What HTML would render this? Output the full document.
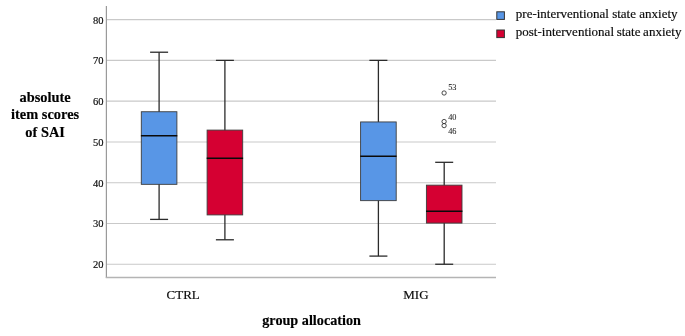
<!DOCTYPE html>
<html lang="en"><head><meta charset="utf-8"><title>SAI box plot</title>
<style>
html,body{margin:0;padding:0;background:#fff;}
body{width:685px;height:336px;position:relative;overflow:hidden;font-family:"Liberation Serif",serif;}
svg text{font-family:"Liberation Serif",serif;fill:#0c0c0c;stroke:#0c0c0c;stroke-width:0.18px;}
svg text.t{stroke-width:0.05px;fill:#1a1a1a;}
svg text.b{font-weight:bold;fill:#000;stroke:#000;stroke-width:0.15px;}
</style></head><body>
<svg width="685" height="336" viewBox="0 0 685 336" style="position:absolute;left:0;top:0;will-change:transform">
<rect width="685" height="336" fill="#fff"/>
<line x1="106.4" x2="496" y1="264.25" y2="264.25" stroke="#c9c9c9" stroke-width="1.1"/>
<line x1="106.4" x2="496" y1="223.47" y2="223.47" stroke="#c9c9c9" stroke-width="1.1"/>
<line x1="106.4" x2="496" y1="182.7" y2="182.7" stroke="#c9c9c9" stroke-width="1.1"/>
<line x1="106.4" x2="496" y1="141.93" y2="141.93" stroke="#c9c9c9" stroke-width="1.1"/>
<line x1="106.4" x2="496" y1="101.15" y2="101.15" stroke="#c9c9c9" stroke-width="1.1"/>
<line x1="106.4" x2="496" y1="60.38" y2="60.38" stroke="#c9c9c9" stroke-width="1.1"/>
<line x1="106.4" x2="496" y1="19.6" y2="19.6" stroke="#c9c9c9" stroke-width="1.1"/>
<line x1="106.4" x2="106.4" y1="6" y2="278.1" stroke="#9a9a9a" stroke-width="1.2"/>
<line x1="105.80000000000001" x2="496" y1="277.5" y2="277.5" stroke="#b4b4b4" stroke-width="1.3"/>
<text x="103.4" y="268.15" text-anchor="end" font-size="10.5" class="s">20</text>
<text x="103.4" y="227.37" text-anchor="end" font-size="10.5" class="s">30</text>
<text x="103.4" y="186.6" text-anchor="end" font-size="10.5" class="s">40</text>
<text x="103.4" y="145.83" text-anchor="end" font-size="10.5" class="s">50</text>
<text x="103.4" y="105.05" text-anchor="end" font-size="10.5" class="s">60</text>
<text x="103.4" y="64.28" text-anchor="end" font-size="10.5" class="s">70</text>
<text x="103.4" y="23.5" text-anchor="end" font-size="10.5" class="s">80</text>
<line x1="159.1" x2="159.1" y1="52.22" y2="219.4" stroke="#2b2b2b" stroke-width="1.3"/>
<line x1="150.1" x2="168.1" y1="52.22" y2="52.22" stroke="#2b2b2b" stroke-width="1.3"/>
<line x1="150.1" x2="168.1" y1="219.4" y2="219.4" stroke="#2b2b2b" stroke-width="1.3"/>
<rect x="141.3" y="111.74" width="35.6" height="72.6" fill="#5896e6" stroke="#3d3d3d" stroke-width="0.9"/>
<line x1="140.9" x2="177.3" y1="135.81" y2="135.81" stroke="#0a0a0a" stroke-width="1.6"/>
<line x1="224.9" x2="224.9" y1="60.38" y2="239.78" stroke="#2b2b2b" stroke-width="1.3"/>
<line x1="215.9" x2="233.9" y1="60.38" y2="60.38" stroke="#2b2b2b" stroke-width="1.3"/>
<line x1="215.9" x2="233.9" y1="239.78" y2="239.78" stroke="#2b2b2b" stroke-width="1.3"/>
<rect x="207.1" y="130.09" width="35.6" height="84.83" fill="#d50032" stroke="#3d3d3d" stroke-width="0.9"/>
<line x1="206.7" x2="243.1" y1="158.24" y2="158.24" stroke="#0a0a0a" stroke-width="1.6"/>
<line x1="378.4" x2="378.4" y1="60.38" y2="256.1" stroke="#2b2b2b" stroke-width="1.3"/>
<line x1="369.4" x2="387.4" y1="60.38" y2="60.38" stroke="#2b2b2b" stroke-width="1.3"/>
<line x1="369.4" x2="387.4" y1="256.1" y2="256.1" stroke="#2b2b2b" stroke-width="1.3"/>
<rect x="360.6" y="121.94" width="35.6" height="78.71" fill="#5896e6" stroke="#3d3d3d" stroke-width="0.9"/>
<line x1="360.2" x2="396.6" y1="156.2" y2="156.2" stroke="#0a0a0a" stroke-width="1.6"/>
<line x1="444.2" x2="444.2" y1="162.31" y2="264.25" stroke="#2b2b2b" stroke-width="1.3"/>
<line x1="435.2" x2="453.2" y1="162.31" y2="162.31" stroke="#2b2b2b" stroke-width="1.3"/>
<line x1="435.2" x2="453.2" y1="264.25" y2="264.25" stroke="#2b2b2b" stroke-width="1.3"/>
<rect x="426.4" y="185.14" width="35.6" height="37.93" fill="#d50032" stroke="#3d3d3d" stroke-width="0.9"/>
<line x1="426.0" x2="462.4" y1="211.24" y2="211.24" stroke="#0a0a0a" stroke-width="1.6"/>
<circle cx="444.1" cy="93.0" r="2.15" fill="none" stroke="#2b2b2b" stroke-width="0.85"/>
<circle cx="444.1" cy="121.54" r="2.15" fill="none" stroke="#2b2b2b" stroke-width="0.85"/>
<circle cx="444.1" cy="125.62" r="2.15" fill="none" stroke="#2b2b2b" stroke-width="0.85"/>
<text x="448.2" y="90.1" font-size="8.3" class="t">53</text>
<text x="448.2" y="120.2" font-size="8.3" class="t">40</text>
<text x="448.2" y="134.1" font-size="8.3" class="t">46</text>
<rect x="496.8" y="11.8" width="7.6" height="7.6" fill="#5896e6" stroke="#333" stroke-width="1"/>
<rect x="496.8" y="30.0" width="7.6" height="7.6" fill="#d50032" stroke="#333" stroke-width="1"/>
<text x="515.8" y="18.2" font-size="13" class="s">pre-interventional state anxiety</text>
<text x="515.8" y="36.4" font-size="13" word-spacing="-0.6" class="s">post-interventional state anxiety</text>
<text x="183.2" y="299.4" text-anchor="middle" font-size="13" class="s">CTRL</text>
<text x="415.9" y="299.4" text-anchor="middle" font-size="13" class="s">MIG</text>
<text x="311.6" y="324.8" text-anchor="middle" font-size="14.2" class="b">group allocation</text>
<text x="45.1" y="102.2" text-anchor="middle" font-size="14.4" class="b">absolute</text>
<text x="45.1" y="119.4" text-anchor="middle" font-size="14.4" class="b">item scores</text>
<text x="45.1" y="136.5" text-anchor="middle" font-size="14.4" class="b">of SAI</text>
</svg>
</body></html>
